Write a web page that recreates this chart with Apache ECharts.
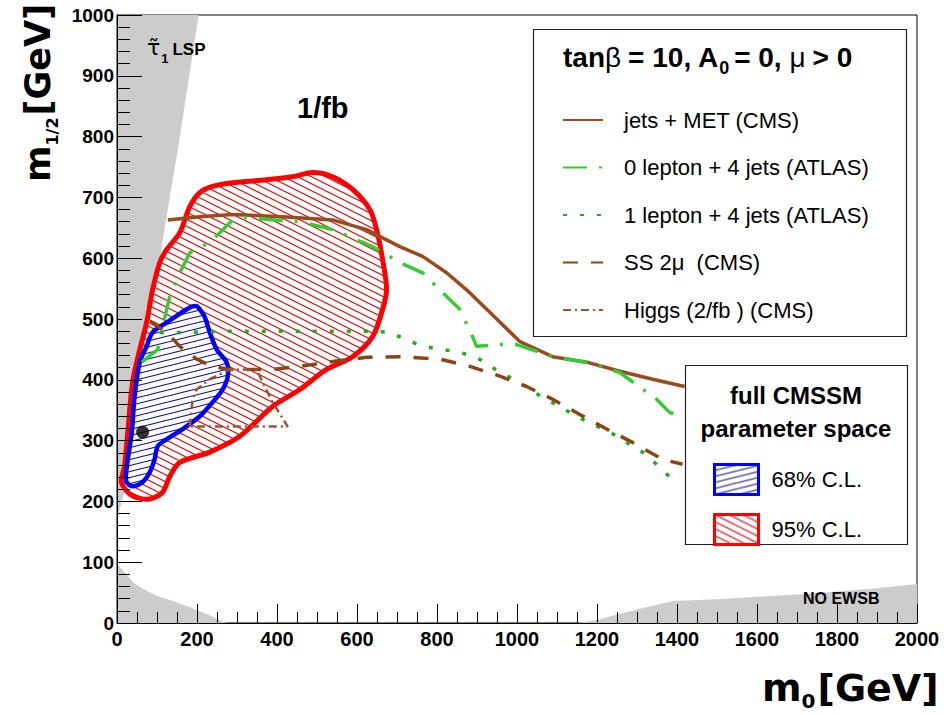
<!DOCTYPE html>
<html>
<head>
<meta charset="utf-8">
<script src="https://cdn.jsdelivr.net/npm/echarts/dist/echarts.min.js"></script>
<style>
  html, body { margin: 0; padding: 0; background: #fff; }
  #chart { width: 944px; height: 715px; }
</style>
</head>
<body>
<div id="chart"></div>
<script>
// ---- axis ticks (GeV) ----
const m0Ticks = [0, 200, 400, 600, 800, 1000, 1200, 1400, 1600, 1800, 2000];
const m12Ticks = [0, 100, 200, 300, 400, 500, 600, 700, 800, 900, 1000];
const m0MinorStep = 50;
const m12MinorStep = 20;

// ---- theoretically excluded regions [m0, m1/2] ----
const stauLSP = [[0,170],[12,200],[25,232],[37,314],[62,433],[82,504],[107,598],[132,701],[152,778],[204,1000],[0,1000]];
const lowM0Excluded = [[0,0],[0,97],[19,84],[40,67],[65,56],[99,45],[140,36],[182,26],[224,15],[249,7],[274,0]];
const noEWSB = [[1150,0],[1200,5],[1250,14],[1300,22],[1350,30],[1390,36],[1500,39],[1600,43],[1700,47],[1800,52],[1900,57],[2000,64],[2000,0]];

// ---- CMSSM fit contours ----
const cl95 = [[11,231],[39,209],[82,204],[114,215],[132,241],[157,264],[232,281],[307,307],[389,356],[457,384],[524,417],[589,438],[639,471],[664,516],[674,548],[664,598],[649,647],[632,680],[589,713],[539,734],[489,741],[439,734],[374,729],[289,724],[239,718],[207,708],[182,685],[157,642],[124,614],[107,593],[89,548],[74,494],[57,450],[39,396],[27,314],[19,258]];
const cl68 = [[24,232],[39,225],[64,232],[82,248],[94,269],[102,291],[124,302],[164,319],[207,340],[239,363],[264,384],[277,406],[274,429],[249,450],[232,478],[219,504],[207,516],[199,521],[182,519],[124,494],[89,478],[74,455],[57,429],[44,373],[37,314],[27,269],[22,241]];
const bestFit = [[64,314]];

// ---- experimental limits ----
const jetsMetCMS = [[127,663],[207,668],[289,672],[414,668],[539,663],[624,647],[707,619],[764,603],[824,576],[874,548],[932,511],[1007,463],[1089,438],[1174,429],[1257,414],[1339,401],[1419,389]];
const zeroLepAtlas = [[62,429],[102,450],[112,483],[132,537],[157,576],[182,609],[232,626],[257,642],[289,663],[314,667],[457,660],[539,647],[639,619],[707,593],[764,576],[824,537],[857,516],[889,471],[899,455],[957,458],[999,458],[1089,438],[1174,429],[1257,412],[1349,368],[1382,346],[1419,340]];
const oneLepAtlas = [[107,478],[174,478],[289,480],[414,480],[539,480],[632,480],[682,478],[724,466],[764,455],[814,450],[857,445],[899,437],[939,420],[982,404],[1024,388],[1064,371],[1107,356],[1149,340],[1189,327],[1232,314],[1274,297],[1314,281],[1349,261],[1382,240]];
const ss2muCMS = [[82,496],[124,478],[157,455],[199,434],[239,422],[282,417],[332,417],[389,417],[457,422],[539,430],[624,437],[707,438],[807,434],[882,422],[957,406],[1024,389],[1089,368],[1157,343],[1224,319],[1289,297],[1364,269],[1414,261]];
const higgsCMS = [[182,323],[189,368],[199,384],[232,401],[282,417],[349,417],[364,396],[389,363],[427,323],[182,323]];

const SANS = 'Liberation Sans, Arial, Helvetica, sans-serif';
const TITLE_FONT = 'DejaVu Sans, sans-serif';

// hatch tiles drawn on small canvases and used as repeating fills
function hatch(w, h, slope, color, bg, lw) {
  const c = document.createElement('canvas');
  c.width = w; c.height = h;
  const ctx = c.getContext('2d');
  if (bg) { ctx.fillStyle = bg; ctx.fillRect(0, 0, w, h); }
  ctx.strokeStyle = color; ctx.lineWidth = lw;
  for (let k = -2; k <= 2; k++) {
    const y0 = (slope > 0 ? 0 : h) + k * h;
    ctx.beginPath();
    ctx.moveTo(-w, y0 - slope * w);
    ctx.lineTo(2 * w, y0 + slope * 2 * w);
    ctx.stroke();
  }
  return { image: c, repeat: 'repeat', imageWidth: w, imageHeight: h };
}
const redHatch = hatch(14, 7, 0.5, '#d42020', null, 1.2);
const blueHatch = hatch(24, 6, -0.25, '#1a1a8c', '#ffffff', 1.2);

function areaSeries(name, pts, fill, stroke, lw, z) {
  return {
    type: 'custom', name: name, coordinateSystem: 'cartesian2d', silent: true, z: z,
    data: [pts[0]],
    itemStyle: { color: fill },
    renderItem: function (params, api) {
      return {
        type: 'polygon',
        shape: { points: pts.map(function (p) { return api.coord(p); }), smooth: stroke ? 0.3 : 0 },
        style: { fill: fill, stroke: stroke || null, lineWidth: lw || 0 }
      };
    }
  };
}

function limitSeries(name, pts, color, width, dash) {
  return {
    type: 'line', name: name, data: pts, symbol: 'none', z: 5, silent: true,
    lineStyle: { color: color, width: width, type: dash || 'solid', cap: 'butt' },
    itemStyle: { color: color }
  };
}

// text runs with sub-scripts, laid out by measured widths
const mctx = document.createElement('canvas').getContext('2d');
function run(x, baseline, pieces, z) {
  const out = [];
  let cx = x;
  pieces.forEach(function (p) {
    const font = (p.w || 'normal') + ' ' + p.s + 'px ' + (p.f || SANS);
    mctx.font = font;
    out.push({
      type: 'text', x: cx, y: baseline + (p.dy || 0) - 0.35 * p.s, z: z || 30,
      style: { text: p.t, font: font, fill: '#000', align: 'left', verticalAlign: 'middle' }
    });
    cx += mctx.measureText(p.t).width + (p.gap || 0);
  });
  return out;
}

const chart = echarts.init(document.getElementById('chart'), null, { renderer: 'svg' });

const graphics = [];
// legend frames
graphics.push({ type: 'rect', shape: { x: 533.5, y: 29.5, width: 373, height: 307 }, style: { fill: '#fff', stroke: '#222', lineWidth: 1.2 }, z: 20 });
graphics.push({ type: 'rect', shape: { x: 685.5, y: 365.5, width: 222, height: 179 }, style: { fill: '#fff', stroke: '#222', lineWidth: 1.2 }, z: 20 });

// legend headings
run(563, 67, [
  { t: 'tan', s: 28, w: 'bold' }, { t: 'β', s: 28, gap: 7 }, { t: '= 10, A', s: 28, w: 'bold' },
  { t: '0', s: 18, w: 'bold', dy: 7, gap: 5 }, { t: '= 0, ', s: 28, w: 'bold' }, { t: 'μ', s: 28, gap: 7 }, { t: '> 0', s: 28, w: 'bold' }
]).forEach(function (g) { graphics.push(g); });
graphics.push({ type: 'text', x: 796, y: 395, z: 30, style: { text: 'full CMSSM', font: 'bold 24px ' + SANS, fill: '#000', align: 'center', verticalAlign: 'middle' } });
graphics.push({ type: 'text', x: 796, y: 428, z: 30, style: { text: 'parameter space', font: 'bold 24px ' + SANS, fill: '#000', align: 'center', verticalAlign: 'middle' } });

// region labels
run(147, 55, [
  { t: 'τ\u0303', s: 22, f: 'DejaVu Sans, sans-serif', gap: 1 }, { t: '1', s: 13, w: 'bold', dy: 8, gap: 4 }, { t: 'LSP', s: 17, w: 'bold' }
]).forEach(function (g) { graphics.push(g); });
run(297, 118, [{ t: '1/fb', s: 29, w: 'bold' }]).forEach(function (g) { graphics.push(g); });
run(803, 604, [{ t: 'NO EWSB', s: 16, w: 'bold' }]).forEach(function (g) { graphics.push(g); });

// axis titles
run(762, 701, [
  { t: 'm', s: 38, w: 'bold', f: TITLE_FONT }, { t: '0', s: 20, w: 'bold', f: TITLE_FONT, dy: 7, gap: 2 },
  { t: '[GeV]', s: 38, w: 'bold', f: TITLE_FONT }
]).forEach(function (g) { graphics.push(g); });
graphics.push({
  type: 'group', x: 50, y: 182, rotation: Math.PI / 2,
  children: run(0, 0, [
    { t: 'm', s: 35, w: 'bold', f: TITLE_FONT }, { t: '1/2', s: 16, w: 'bold', f: TITLE_FONT, dy: 8, gap: 2 },
    { t: '[GeV]', s: 35, w: 'bold', f: TITLE_FONT }
  ])
});

const plainLabel = function (v) { return String(v); };
const tickStyle = { color: '#000', width: 1 };

chart.setOption({
  animation: false,
  backgroundColor: '#fff',
  grid: { left: 117, right: 27, top: 15, bottom: 92, show: true, borderColor: '#000', borderWidth: 1, outerBoundsMode: 'none', containLabel: false },
  xAxis: [
    {
      type: 'value', position: 'bottom', z: 10,
      min: m0Ticks[0], max: m0Ticks[m0Ticks.length - 1], interval: m0Ticks[1] - m0Ticks[0],
      axisLine: { show: true, lineStyle: tickStyle },
      axisTick: { show: true, inside: true, length: 19, lineStyle: tickStyle },
      splitLine: { show: false },
      axisLabel: { color: '#000', fontFamily: SANS, fontWeight: 'bold', fontSize: 20, margin: 6, showMinLabel: true, showMaxLabel: true, hideOverlap: false, formatter: plainLabel }
    },
    {
      type: 'value', position: 'bottom', z: 10,
      min: m0Ticks[0], max: m0Ticks[m0Ticks.length - 1], interval: m0MinorStep,
      axisLine: { show: false },
      axisTick: { show: true, inside: true, length: 11, lineStyle: tickStyle },
      splitLine: { show: false },
      axisLabel: { show: false }
    }
  ],
  yAxis: [
    {
      type: 'value', position: 'left', z: 10,
      min: m12Ticks[0], max: m12Ticks[m12Ticks.length - 1], interval: m12Ticks[1] - m12Ticks[0],
      axisLine: { show: true, lineStyle: tickStyle },
      axisTick: { show: true, inside: true, length: 25, lineStyle: tickStyle },
      splitLine: { show: false },
      axisLabel: { color: '#000', fontFamily: SANS, fontWeight: 'bold', fontSize: 19, margin: 3, showMinLabel: true, showMaxLabel: true, hideOverlap: false, formatter: plainLabel }
    },
    {
      type: 'value', position: 'left', z: 10,
      min: m12Ticks[0], max: m12Ticks[m12Ticks.length - 1], interval: m12MinorStep,
      axisLine: { show: false },
      axisTick: { show: true, inside: true, length: 13, lineStyle: tickStyle },
      splitLine: { show: false },
      axisLabel: { show: false }
    }
  ],
  legend: [
    {
      orient: 'vertical', left: 557, top: 104, z: 40, selectedMode: false,
      itemWidth: 40, itemHeight: 22, itemGap: 25.5,
      itemStyle: { opacity: 0 },
      textStyle: { fontFamily: SANS, fontSize: 22, color: '#000', lineHeight: 22, padding: [0, 0, 0, 16] },
      data: ['jets + MET (CMS)', '0 lepton + 4 jets (ATLAS)', '1 lepton + 4 jets (ATLAS)', 'SS 2μ  (CMS)', 'Higgs (2/fb ) (CMS)']
    },
    {
      orient: 'vertical', left: 708, top: 458, z: 40, selectedMode: false,
      itemWidth: 44, itemHeight: 30, itemGap: 17,
      textStyle: { fontFamily: SANS, fontSize: 22, color: '#000', lineHeight: 30, padding: [0, 0, 0, 8] },
      data: [
        { name: '68% C.L.', icon: 'rect', itemStyle: { color: blueHatch, borderColor: '#0000ff', borderWidth: 3 } },
        { name: '95% C.L.', icon: 'rect', itemStyle: { color: redHatch, borderColor: '#ff0000', borderWidth: 3 } }
      ]
    }
  ],
  graphic: graphics,
  series: [
    areaSeries('stau LSP', stauLSP, '#cccccc', null, 0, 1),
    areaSeries('low m0', lowM0Excluded, '#cccccc', null, 0, 1),
    areaSeries('NO EWSB', noEWSB, '#cccccc', null, 0, 1),
    areaSeries('95% C.L.', cl95, redHatch, '#ff0000', 5, 2),
    areaSeries('68% C.L.', cl68, blueHatch, '#0000ff', 4.5, 3),
    limitSeries('jets + MET (CMS)', jetsMetCMS, '#9a4a1c', 3.5),
    limitSeries('0 lepton + 4 jets (ATLAS)', zeroLepAtlas, '#33cc33', 3.5, [24, 12, 3, 12]),
    limitSeries('1 lepton + 4 jets (ATLAS)', oneLepAtlas, '#22aa22', 3.5, [4, 13]),
    limitSeries('SS 2μ  (CMS)', ss2muCMS, '#8b4513', 3.5, [15, 13]),
    limitSeries('Higgs (2/fb ) (CMS)', higgsCMS, '#a0522d', 2.5, [8, 4, 2, 4]),
    { type: 'scatter', name: 'best fit', data: bestFit, symbol: 'circle', symbolSize: 13, z: 8, silent: true, itemStyle: { color: '#000' } }
  ]
});
</script>
</body>
</html>
